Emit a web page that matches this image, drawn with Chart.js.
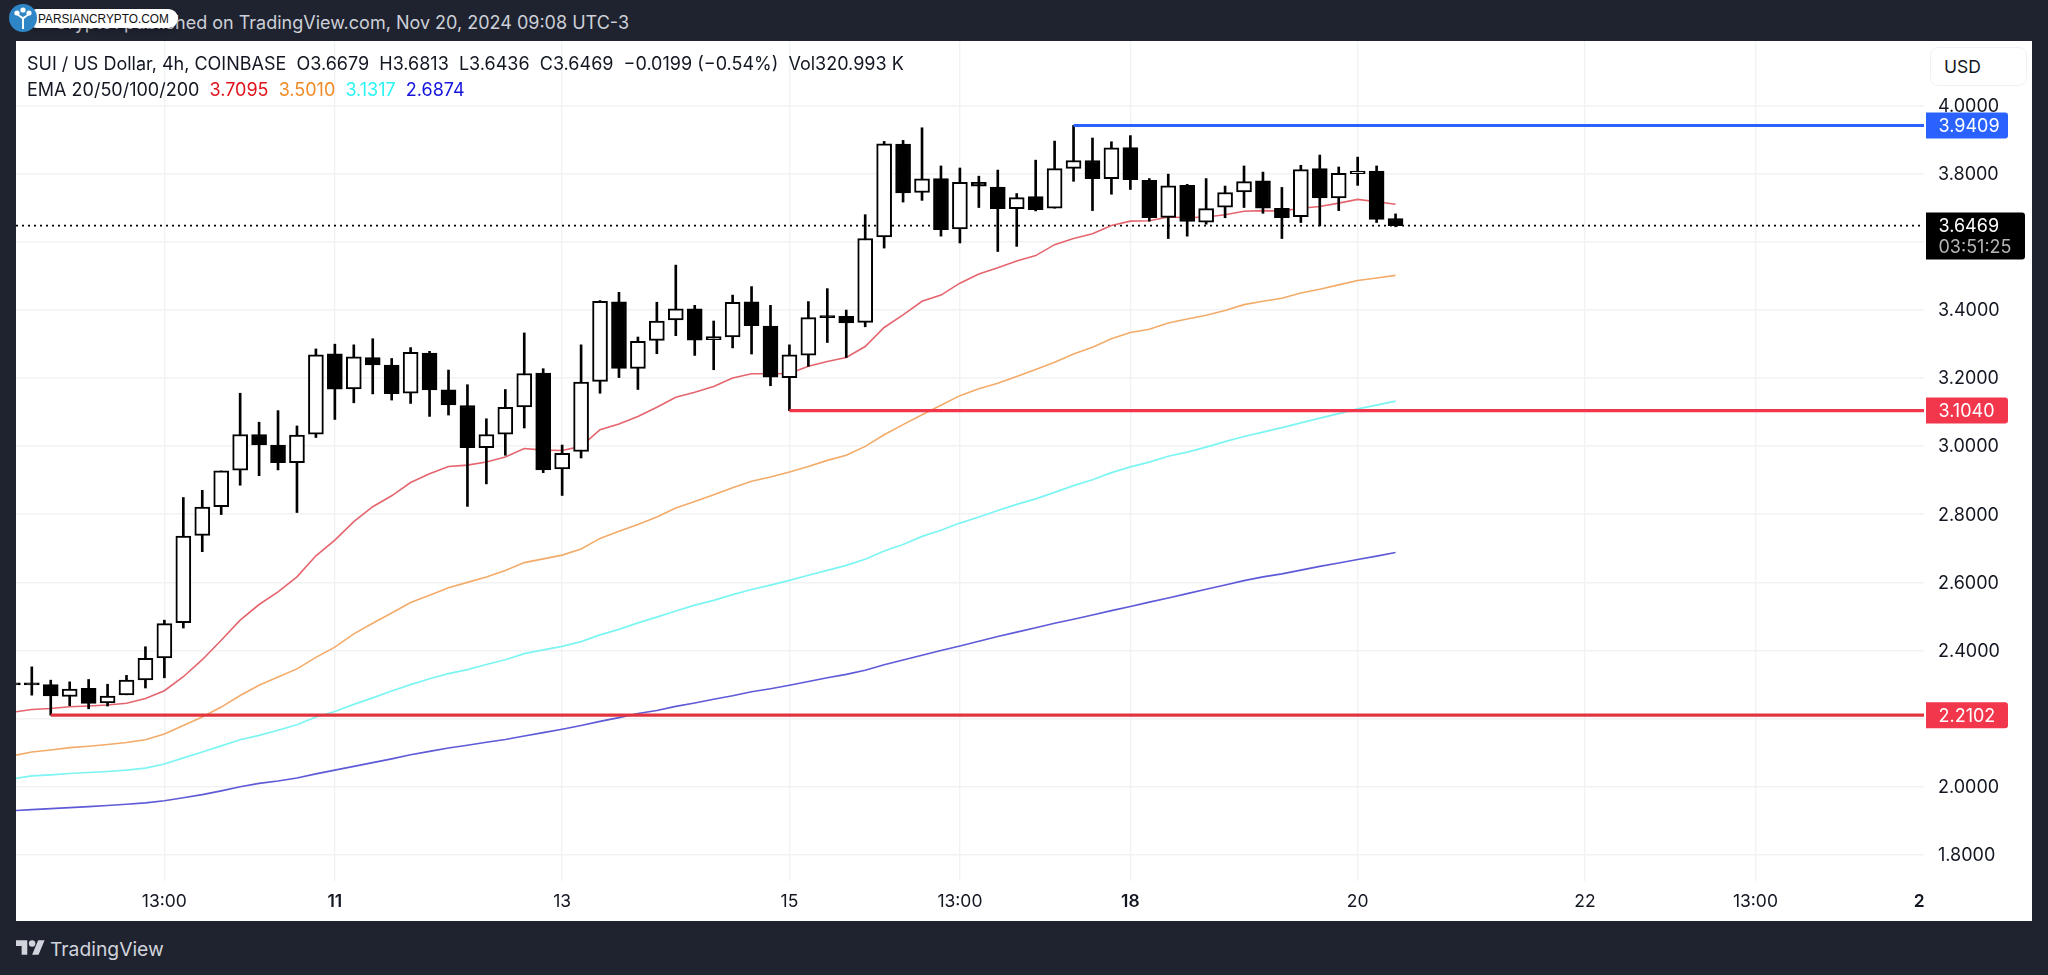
<!DOCTYPE html>
<html>
<head>
<meta charset="utf-8">
<title>SUI / US Dollar</title>
<script src="https://cdn.jsdelivr.net/npm/chart.js@4"></script>
<style>
    html, body { margin: 0; height: 100%; background: #1f2330; overflow: hidden; font-family: Inter, "Noto Sans", sans-serif; }
    #topline { position: absolute; right: 1419px; top: 11px; color: #cdd0d8; font-size: 18px; line-height: 24px; white-space: nowrap; }
    #stamp { position: absolute; left: 27px; top: 9px; width: 151px; height: 19px; background: #fff; border-radius: 10px; color: #111; font: 13.6px/19px "Liberation Sans", sans-serif; white-space: nowrap; box-shadow: 0 2px 5px rgba(0,0,0,.25); }
    #stamp span { display: inline-block; margin-left: 11px; transform: scaleX(.87); transform-origin: left center; }
    #stampLogo { position: absolute; left: 9px; top: 4px; }
    #panel { position: absolute; left: 16px; top: 41px; width: 2016px; height: 880px; background: #fff; }
    canvas { position: absolute; left: 0; top: 0; }
    .legend { position: absolute; left: 11px; color: #131722; font-size: 18px; line-height: 24px; white-space: pre; }
    #usd { position: absolute; left: 1914px; top: 6px; width: 95px; height: 37px; border: 1px solid #f0f1f3; border-radius: 8px; color: #131722; font-size: 17.5px; line-height: 37px; text-indent: 13px; background: #fff; }
    #tvLogo { position: absolute; left: 16px; top: 940px; }
    #tvName { position: absolute; left: 50px; top: 936px; color: #d1d4dc; font-size: 19.3px; line-height: 26px; }
</style>
</head>
<body>
<div id="topline">Crypto1 published on TradingView.com, Nov 20, 2024 09:08 UTC-3</div>
<div id="panel">
    <canvas id="priceChart" width="2016" height="880"></canvas>
    <div class="legend" style="top:11px">SUI / US Dollar, 4h, COINBASE  O3.6679  H3.6813  L3.6436  C3.6469  −0.0199 (−0.54%)  Vol320.993 K</div>
    <div class="legend" style="top:37px">EMA 20/50/100/200  <span style="color:#e0141e">3.7095</span>  <span style="color:#f08c28">3.5010</span>  <span style="color:#2cf4f4">3.1317</span>  <span style="color:#1414dc">2.6874</span></div>
    <div id="usd">USD</div>
</div>
<div id="stamp"><span>PARSIANCRYPTO.COM</span></div>
<svg id="stampLogo" width="28" height="28" viewBox="0 0 28 28">
    <circle cx="14" cy="14" r="14" fill="#2f86c6"/>
    <path d="M13 25V15L8 11l1-1 5 3 5-3 1 1-5 4v10z" fill="#fff"/>
    <circle cx="8" cy="9" r="2.6" fill="#fff"/><circle cx="14" cy="6" r="2.6" fill="#fff"/><circle cx="20" cy="9" r="2.6" fill="#fff"/>
</svg>
<svg id="tvLogo" width="29" height="15" viewBox="0 4 36 18">
    <path d="M14 22H7V11H0V4h14v18zM28 22h-8l7.5-18h8L28 22z" fill="#d1d4dc"/>
    <circle cx="20" cy="8" r="4" fill="#d1d4dc"/>
</svg>
<div id="tvName">TradingView</div>

<script>
// --- Values ---
const opens = [2.305, 2.305, 2.300, 2.265, 2.289, 2.246, 2.270, 2.314, 2.378, 2.482,
    2.738, 2.822, 2.929, 3.034, 3.003, 2.951, 3.035, 3.271, 3.168, 3.260,
    3.238, 3.155, 3.273, 3.165, 3.119, 2.995, 3.035, 3.115, 3.214, 2.933,
    2.984, 3.190, 3.423, 3.228, 3.310, 3.370, 3.403, 3.312, 3.320, 3.423,
    3.352, 3.201, 3.267, 3.383, 3.381, 3.363, 3.614, 3.886, 3.744, 3.785,
    3.637, 3.774, 3.760, 3.697, 3.732, 3.698, 3.815, 3.838, 3.785, 3.876,
    3.780, 3.671, 3.765, 3.657, 3.701, 3.746, 3.778, 3.698, 3.673, 3.814,
    3.728, 3.799, 3.807, 3.6679];
const highs = [2.305, 2.352, 2.313, 2.308, 2.315, 2.301, 2.327, 2.411, 2.489, 2.849,
    2.870, 2.927, 3.155, 3.070, 3.104, 3.059, 3.285, 3.299, 3.297, 3.315,
    3.257, 3.289, 3.278, 3.223, 3.180, 3.080, 3.166, 3.332, 3.227, 3.003,
    3.297, 3.427, 3.451, 3.320, 3.422, 3.531, 3.413, 3.367, 3.443, 3.468,
    3.413, 3.297, 3.424, 3.462, 3.399, 3.679, 3.894, 3.897, 3.934, 3.822,
    3.816, 3.792, 3.810, 3.741, 3.839, 3.895, 3.9409, 3.904, 3.893, 3.911,
    3.785, 3.798, 3.768, 3.785, 3.763, 3.822, 3.804, 3.759, 3.824, 3.854,
    3.819, 3.848, 3.822, 3.6813];
const lows = [2.299, 2.269, 2.2102, 2.238, 2.229, 2.237, 2.270, 2.290, 2.320, 2.466,
    2.690, 2.799, 2.885, 2.913, 2.930, 2.805, 3.025, 3.078, 3.127, 3.153,
    3.135, 3.125, 3.087, 3.091, 2.823, 2.889, 2.973, 3.053, 2.922, 2.855,
    2.965, 3.155, 3.201, 3.166, 3.271, 3.324, 3.266, 3.224, 3.288, 3.270,
    3.177, 3.104, 3.234, 3.304, 3.260, 3.350, 3.581, 3.716, 3.721, 3.616,
    3.596, 3.700, 3.571, 3.586, 3.690, 3.698, 3.777, 3.691, 3.739, 3.753,
    3.660, 3.609, 3.616, 3.651, 3.670, 3.700, 3.683, 3.609, 3.656, 3.646,
    3.691, 3.765, 3.656, 3.6436];
const closes = [2.299, 2.299, 2.267, 2.287, 2.245, 2.266, 2.313, 2.377, 2.479, 2.736,
    2.821, 2.927, 3.034, 3.003, 2.951, 3.032, 3.268, 3.167, 3.262, 3.238,
    3.154, 3.275, 3.165, 3.121, 2.995, 3.034, 3.114, 3.213, 2.930, 2.979,
    3.188, 3.425, 3.228, 3.307, 3.367, 3.403, 3.311, 3.321, 3.422, 3.353,
    3.202, 3.268, 3.377, 3.377, 3.361, 3.609, 3.887, 3.743, 3.784, 3.635,
    3.774, 3.763, 3.697, 3.729, 3.694, 3.814, 3.838, 3.785, 3.875, 3.782,
    3.670, 3.764, 3.659, 3.697, 3.744, 3.776, 3.698, 3.670, 3.811, 3.728,
    3.800, 3.807, 3.665, 3.6469];

const ema20 = [2.219, 2.227, 2.230, 2.235, 2.237, 2.240, 2.245, 2.259, 2.282, 2.323,
    2.373, 2.430, 2.489, 2.535, 2.572, 2.616, 2.678, 2.724, 2.778, 2.822,
    2.854, 2.893, 2.919, 2.940, 2.944, 2.953, 2.968, 2.993, 2.988, 2.987,
    2.999, 3.048, 3.065, 3.087, 3.114, 3.143, 3.158, 3.175, 3.200, 3.212,
    3.212, 3.213, 3.234, 3.248, 3.260, 3.292, 3.348, 3.385, 3.425, 3.443,
    3.478, 3.505, 3.523, 3.543, 3.559, 3.591, 3.609, 3.623, 3.647, 3.660,
    3.661, 3.672, 3.670, 3.672, 3.679, 3.689, 3.691, 3.690, 3.698, 3.703,
    3.713, 3.724, 3.717, 3.7095];
const ema50 = [2.091, 2.102, 2.108, 2.115, 2.119, 2.124, 2.130, 2.138, 2.155, 2.180,
    2.205, 2.234, 2.268, 2.298, 2.322, 2.346, 2.380, 2.410, 2.449, 2.480,
    2.510, 2.541, 2.562, 2.584, 2.600, 2.616, 2.635, 2.658, 2.669, 2.680,
    2.698, 2.729, 2.750, 2.770, 2.792, 2.818, 2.837, 2.857, 2.878, 2.897,
    2.909, 2.924, 2.940, 2.958, 2.973, 2.999, 3.033, 3.063, 3.092, 3.120,
    3.148, 3.168, 3.184, 3.204, 3.225, 3.246, 3.270, 3.290, 3.315, 3.333,
    3.343, 3.361, 3.373, 3.384, 3.398, 3.415, 3.425, 3.434, 3.449, 3.460,
    3.473, 3.486, 3.493, 3.5010];
const ema100 = [2.023, 2.032, 2.035, 2.039, 2.042, 2.045, 2.049, 2.055, 2.067, 2.085,
    2.102, 2.120, 2.138, 2.151, 2.166, 2.182, 2.205, 2.221, 2.242, 2.261,
    2.281, 2.300, 2.317, 2.332, 2.344, 2.359, 2.373, 2.391, 2.402, 2.412,
    2.426, 2.446, 2.462, 2.481, 2.498, 2.516, 2.533, 2.547, 2.564, 2.579,
    2.592, 2.606, 2.621, 2.635, 2.650, 2.668, 2.692, 2.711, 2.735, 2.753,
    2.774, 2.792, 2.811, 2.829, 2.845, 2.864, 2.884, 2.901, 2.922, 2.939,
    2.953, 2.970, 2.982, 2.997, 3.013, 3.028, 3.041, 3.054, 3.068, 3.082,
    3.095, 3.109, 3.120, 3.1317];
const ema200 = [1.930, 1.933, 1.936, 1.939, 1.942, 1.945, 1.949, 1.953, 1.959, 1.968,
    1.977, 1.988, 2.000, 2.010, 2.017, 2.026, 2.038, 2.049, 2.060, 2.071,
    2.082, 2.094, 2.104, 2.114, 2.122, 2.131, 2.139, 2.149, 2.159, 2.169,
    2.180, 2.192, 2.203, 2.215, 2.224, 2.236, 2.246, 2.257, 2.267, 2.279,
    2.288, 2.298, 2.309, 2.320, 2.330, 2.342, 2.358, 2.372, 2.386, 2.400,
    2.413, 2.427, 2.441, 2.454, 2.467, 2.480, 2.492, 2.504, 2.517, 2.529,
    2.542, 2.554, 2.567, 2.580, 2.592, 2.605, 2.616, 2.625, 2.636, 2.647,
    2.657, 2.667, 2.677, 2.6874];

const priceTicks = [1.8, 2.0, 2.2, 2.4, 2.6, 2.8, 3.0, 3.2, 3.4, 3.6, 3.8, 4.0];
const timeSlots = [8, 17, 29, 41, 50, 59, 71, 83, 92, 100.65];
const timeLabels = ['13:00', '11', '13', '15', '13:00', '18', '20', '22', '13:00', '2'];
const boldLabels = ['11', '18', '2'];

const highLevel = 3.9409, highFrom = 56;
const midLevel = 3.1040, midFrom = 41;
const lowLevel = 2.2102, lowFrom = 2;
const lastPrice = 3.6469;
const countdown = '03:51:25';

// --- Chart ---
const FONT = 'Inter';
const xMin = 0.166, xMax = 100.9;
const slots = closes.map((c, i) => i);
const series = values => values.map((v, i) => ({ x: i, y: v }));
const levelLine = (level, from) => [{ x: from, y: level }, { x: xMax, y: level }];

function lineSet(data, color, width, order) {
    return { type: 'line', data, borderColor: color, borderWidth: width, pointRadius: 0, tension: 0, order };
}

// the plot runs right up to the panel edges, so drop the room kept for half tick labels
function noPadding(scale) {
    scale.paddingLeft = scale.paddingRight = scale.paddingTop = scale.paddingBottom = 0;
}

// price tags on the right axis, placed from the y scale
const priceTags = {
    id: 'priceTags',
    afterDraw(chart) {
        const { ctx, scales: { y } } = chart;
        const left = chart.chartArea.right + 2;
        ctx.save();
        ctx.font = '18px ' + FONT;
        ctx.textBaseline = 'middle';
        const tag = (top, w, h, color) => {
            ctx.fillStyle = color;
            ctx.beginPath();
            ctx.roundRect(left, top, w, h, [0, 3, 3, 0]);
            ctx.fill();
        };
        [[highLevel, '#2962ff'], [midLevel, '#f2364c'], [lowLevel, '#f2364c']].forEach(([level, color]) => {
            const py = y.getPixelForValue(level);
            tag(py - 13, 82, 26, color);
            ctx.fillStyle = '#fff';
            ctx.fillText(level.toFixed(4), left + 12.5, py + 1);
        });
        const py = y.getPixelForValue(lastPrice);
        tag(py - 13, 99, 47, '#000');
        ctx.fillStyle = '#fff';
        ctx.fillText(lastPrice.toFixed(4), left + 12.5, py + 1);
        ctx.fillStyle = '#b4b4b4';
        ctx.fillText(countdown, left + 12.5, py + 22);
        ctx.restore();
    }
};

new Chart(document.getElementById('priceChart'), {
    type: 'bar',
    data: {
        datasets: [
            lineSet(levelLine(highLevel, highFrom), '#2962ff', 3, 1),
            lineSet(levelLine(midLevel, midFrom), '#f2364c', 3.2, 1),
            lineSet(levelLine(lowLevel, lowFrom), '#e2343f', 3.2, 1),
            {
                data: slots.map(i => ({ x: i, y: [opens[i], closes[i]] })),
                backgroundColor: slots.map(i => closes[i] >= opens[i] ? '#ffffff' : '#000000'),
                borderColor: '#000000',
                borderWidth: 2,
                borderSkipped: false,
                barThickness: 15,
                grouped: false,
                order: 2
            },
            {
                data: slots.map(i => ({ x: i, y: [lows[i], highs[i]] })),
                backgroundColor: '#000000',
                barThickness: 2,
                grouped: false,
                order: 3
            },
            lineSet(series(ema20), '#e5656e', 1.6, 4),
            lineSet(series(ema50), '#f3ab69', 1.6, 4),
            lineSet(series(ema100), '#7cf5f3', 1.7, 4),
            lineSet(series(ema200), '#5e5ad8', 1.6, 4),
            Object.assign(lineSet(levelLine(lastPrice, xMin), '#000000', 1.6, 5), { borderDash: [2, 4] })
        ]
    },
    options: {
        responsive: false,
        animation: false,
        layout: { padding: 0 },
        plugins: { legend: { display: false }, tooltip: { enabled: false } },
        scales: {
            x: {
                type: 'linear',
                offset: false,
                min: xMin,
                max: xMax,
                afterBuildTicks: scale => { scale.ticks = timeSlots.map(v => ({ value: v })); },
                afterFit: scale => { scale.height = 40; noPadding(scale); },
                grid: {
                    offset: false,
                    color: ctx => ctx.index === timeSlots.length - 1 ? 'rgba(0,0,0,0)' : '#f1f2f4',
                    lineWidth: 1.4,
                    drawTicks: false
                },
                border: { display: false },
                ticks: {
                    autoSkip: false,
                    maxRotation: 0,
                    padding: 10,
                    color: '#131722',
                    font: ctx => ({
                        family: FONT,
                        size: 17.5,
                        weight: boldLabels.includes(timeLabels[ctx.index]) ? '600' : '400'
                    }),
                    callback: (value, index) => timeLabels[index]
                }
            },
            y: {
                position: 'right',
                min: 1.7236,
                max: 4.1887,
                afterBuildTicks: scale => { scale.ticks = priceTicks.map(v => ({ value: v })); },
                afterFit: scale => { scale.width = 108; noPadding(scale); },
                grid: { color: '#f1f2f4', lineWidth: 1.6, drawTicks: false },
                border: { display: false },
                ticks: {
                    padding: 14,
                    labelOffset: 1,
                    color: '#131722',
                    font: { family: FONT, size: 18 },
                    callback: value => value.toFixed(4)
                }
            }
        }
    },
    plugins: [priceTags]
});
</script>
</body>
</html>
